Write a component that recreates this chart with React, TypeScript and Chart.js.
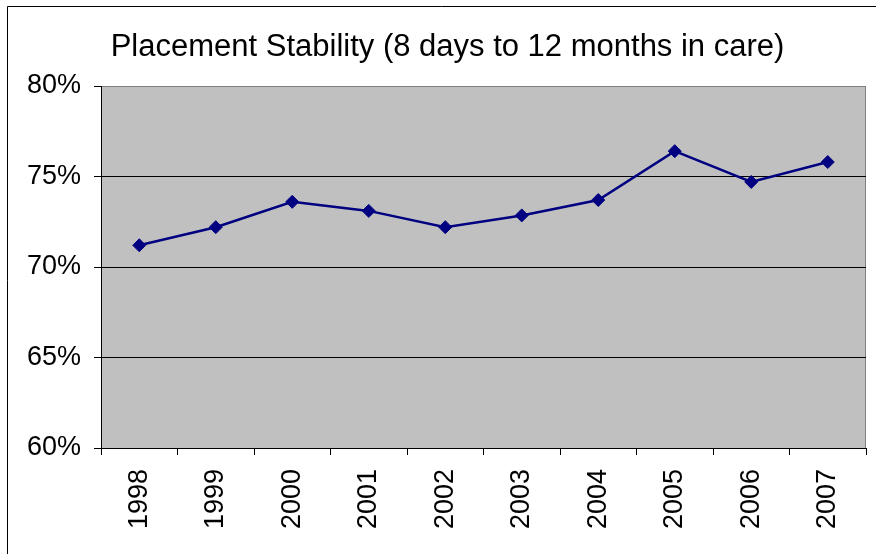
import React, { useEffect, useRef } from "react";
import { Chart, registerables } from "chart.js";

Chart.register(...registerables);

const titleText = "Placement Stability (8 days to 12 months in care)";
const years = ["1998", "1999", "2000", "2001", "2002", "2003", "2004", "2005", "2006", "2007"];
const stability = [71.2, 72.2, 73.6, 73.1, 72.2, 72.85, 73.7, 76.4, 74.7, 75.8];
const yMin = 60;
const yMax = 80;
const yStep = 5;

const FONT = '"Liberation Sans", Arial, sans-serif';

const framePlugin = {
  id: "frame",
  beforeDraw(chart: any) {
    const { ctx, chartArea } = chart;
    const { left, top, right, bottom } = chartArea;
    ctx.save();
    ctx.fillStyle = "#ffffff";
    ctx.fillRect(0, 0, chart.width, chart.height);
    // outer chart border
    ctx.strokeStyle = "#000000";
    ctx.lineWidth = 1;
    ctx.beginPath();
    ctx.moveTo(7.5, chart.height);
    ctx.lineTo(7.5, 6.5);
    ctx.lineTo(chart.width, 6.5);
    ctx.stroke();
    // plot area
    ctx.fillStyle = "#c0c0c0";
    ctx.fillRect(left, top, right - left, bottom - top);
    ctx.strokeStyle = "#808080";
    ctx.beginPath();
    ctx.moveTo(left, top + 0.5);
    ctx.lineTo(right - 0.5, top + 0.5);
    ctx.lineTo(right - 0.5, bottom);
    ctx.stroke();
    // title
    ctx.fillStyle = "#000000";
    ctx.font = `31px ${FONT}`;
    ctx.textAlign = "center";
    ctx.textBaseline = "alphabetic";
    ctx.fillText(titleText, 447.5, 56);
    ctx.restore();
  },
};

export default function App() {
  const ref = useRef<HTMLCanvasElement>(null);
  useEffect(() => {
    if (!ref.current) return;
    const chart = new Chart(ref.current, {
      type: "line",
      data: {
        labels: years,
        datasets: [
          {
            data: stability,
            borderColor: "#000080",
            backgroundColor: "#000080",
            borderWidth: 2.5,
            pointStyle: "rectRot",
            pointRadius: 6.5,
            pointBorderWidth: 1,
            pointBorderColor: "#000080",
            pointBackgroundColor: "#000080",
            tension: 0,
          },
        ],
      },
      options: {
        animation: false,
        responsive: false,
        layout: { padding: { top: 86, right: 10, left: 0, bottom: 0 } },
        plugins: {
          legend: { display: false },
          title: { display: false },
          tooltip: { enabled: false },
        },
        scales: {
          x: {
            type: "category",
            offset: true,
            grid: {
              display: true,
              offset: true,
              drawOnChartArea: false,
              drawTicks: true,
              tickLength: 7,
              tickColor: "#000000",
            },
            border: { display: true, color: "#000000", width: 1 },
            ticks: {
              minRotation: 90,
              maxRotation: 90,
              padding: 14,
              color: "#000000",
              font: { family: FONT, size: 27 },
            },
            afterFit(scale: any) {
              scale.height = 106;
            },
          },
          y: {
            min: yMin,
            max: yMax,
            grid: {
              color: (c: any) => (c.tick && c.tick.value === yMax ? "#808080" : "#000000"),
              tickLength: 7,
              tickColor: "#000000",
              lineWidth: 1,
            },
            border: { display: true, color: "#000000", width: 1 },
            ticks: {
              stepSize: yStep,
              padding: 13,
              color: "#000000",
              font: { family: FONT, size: 27 },
              callback: (v: any) => `${v}%`,
            },
            afterFit(scale: any) {
              scale.width = 101;
            },
          },
        },
      },
      plugins: [framePlugin],
    });
    return () => chart.destroy();
  }, []);
  return (
    <div style={{ position: "absolute", left: 0, top: 0, width: 876, height: 554 }}>
      <canvas ref={ref} width={876} height={554} />
    </div>
  );
}
